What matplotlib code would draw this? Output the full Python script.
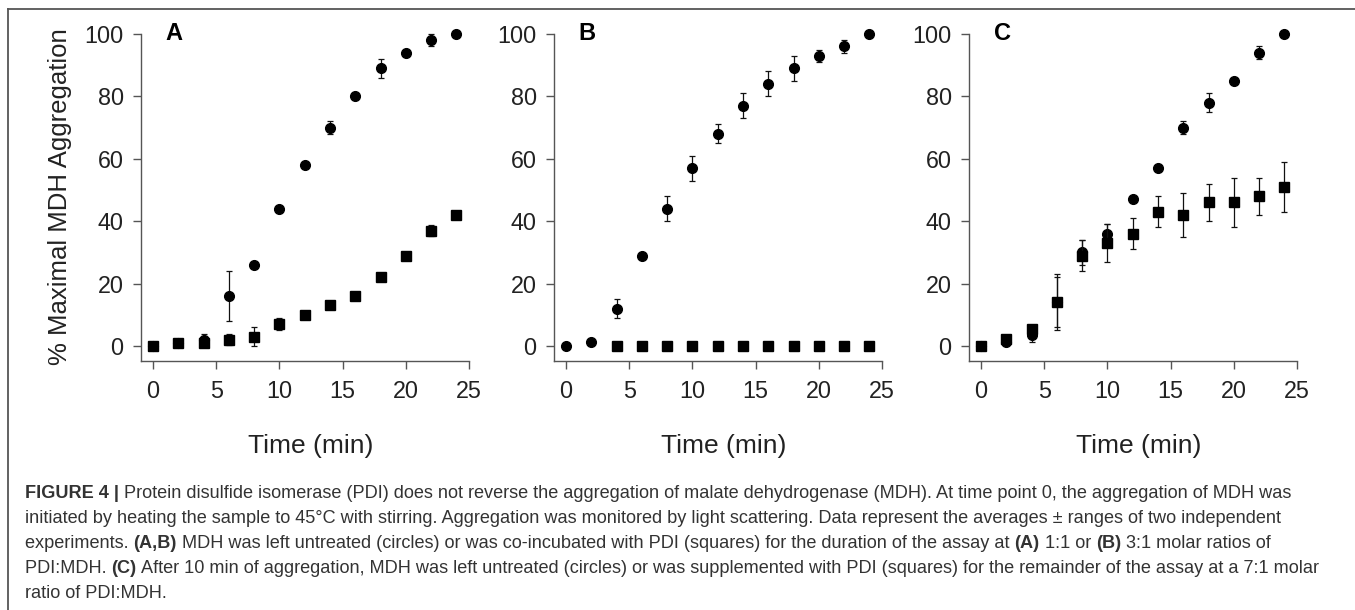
import matplotlib
matplotlib.use("Agg")
import matplotlib.pyplot as plt
from matplotlib.lines import Line2D
import numpy as np

plt.rcParams['font.family'] = ['Liberation Sans', 'DejaVu Sans']

# ---------------- data ----------------
time = [0, 2, 4, 6, 8, 10, 12, 14, 16, 18, 20, 22, 24]

A_circ = [0, 1, 2, 16, 26, 44, 58, 70, 80, 89, 94, 98, 100]
A_circ_err = [0, 0, 2, 8, 0, 0, 0, 2, 0, 3, 0, 2, 0]
A_sq = [0, 1, 1, 2, 3, 7, 10, 13, 16, 22, 29, 37, 42]
A_sq_err = [0, 0, 0, 1.8, 3, 2, 0, 0, 0, 0, 0, 1.8, 0]

B_circ = [0, 1.2, 12, 29, 44, 57, 68, 77, 84, 89, 93, 96, 100]
B_circ_err = [0, 0, 3, 0, 4, 4, 3, 4, 4, 4, 2, 2, 0]
B_sq_time = [4, 6, 8, 10, 12, 14, 16, 18, 20, 22, 24]
B_sq = [0, 0, 0, 0, 0, 0, 0, 0, 0, 0, 0]
B_sq_err = [0, 0, 0, 0, 0, 0, 0, 0, 0, 0, 0]

C_circ = [0, 1.4, 3.5, 14, 30, 36, 47, 57, 70, 78, 85, 94, 100]
C_circ_err = [0, 0, 2.2, 9, 4, 3, 0, 0, 2, 3, 0, 2, 0]
C_sq = [0, 2.2, 5.3, 14, 29, 33, 36, 43, 42, 46, 46, 48, 51]
C_sq_err = [0, 0, 1, 8, 5, 6, 5, 5, 7, 6, 8, 6, 8]

panel_letters = ["A", "B", "C"]
x_ticks = [0, 5, 10, 15, 20, 25]
y_ticks = [0, 20, 40, 60, 80, 100]
x_label = "Time (min)"
y_label = "% Maximal MDH Aggregation"

caption_lines = [
    [("FIGURE 4 | ", True),
     ("Protein disulfide isomerase (PDI) does not reverse the aggregation of malate dehydrogenase (MDH). At time point 0, the aggregation of MDH was", False)],
    [("initiated by heating the sample to 45\u00b0C with stirring. Aggregation was monitored by light scattering. Data represent the averages \u00b1 ranges of two independent", False)],
    [("experiments. ", False), ("(A,B)", True),
     (" MDH was left untreated (circles) or was co-incubated with PDI (squares) for the duration of the assay at ", False),
     ("(A)", True), (" 1:1 or ", False), ("(B)", True), (" 3:1 molar ratios of", False)],
    [("PDI:MDH. ", False), ("(C)", True),
     (" After 10 min of aggregation, MDH was left untreated (circles) or was supplemented with PDI (squares) for the remainder of the assay at a 7:1 molar", False)],
    [("ratio of PDI:MDH.", False)],
]

# ---------------- figure ----------------
W, H = 1355, 610
fig = plt.figure(figsize=(W / 100, H / 100), dpi=100)
fig.patch.set_facecolor("white")

def fx(px):
    return px / W

def fy(py):
    return 1 - py / H

spine_col = "#555555"
txt_col = "#222222"

panels = [
    (141, [(time, A_circ, A_circ_err, 'o'), (time, A_sq, A_sq_err, 's')]),
    (554, [(time, B_circ, B_circ_err, 'o'), (B_sq_time, B_sq, B_sq_err, 's')]),
    (969, [(time, C_circ, C_circ_err, 'o'), (time, C_sq, C_sq_err, 's')]),
]

ax_w = 328
ax_top, ax_bot = 34, 361
for i, (left, series) in enumerate(panels):
    ax = fig.add_axes([fx(left), fy(ax_bot), ax_w / W, (ax_bot - ax_top) / H])
    for (xs, ys, es, mk) in series:
        ms = 7.0 if mk == 'o' else 7.0
        z = 3 if mk == 'o' else 4
        ax.errorbar(xs, ys, yerr=es, fmt=mk, color='black', markersize=ms,
                    ecolor='#111111', elinewidth=0.9, capsize=2.3, capthick=0.9,
                    clip_on=False, zorder=z)
    ax.set_xlim(-0.95, 25)
    ax.set_ylim(-4.8, 100)
    ax.set_xticks(x_ticks)
    ax.set_yticks(y_ticks)
    for s in ["top", "right"]:
        ax.spines[s].set_visible(False)
    for s in ["left", "bottom"]:
        ax.spines[s].set_color(spine_col)
        ax.spines[s].set_linewidth(1.0)
    ax.tick_params(axis='both', length=5.5, width=1.0, color=spine_col,
                   labelsize=16.8, labelcolor=txt_col)
    ax.tick_params(axis='y', pad=7)
    ax.tick_params(axis='x', pad=8)
    ax.patch.set_alpha(0)
    ax.text(1.0, 100, panel_letters[i], fontsize=17, fontweight='bold',
            ha='left', va='center', color='black')
    # x label
    cx = left + 12 + 12.5 * 12.64
    fig.text(fx(cx), fy(446), x_label, fontsize=19, ha='center', va='center',
             color=txt_col)

fig.text(fx(60), fy(197), y_label, fontsize=18.5, rotation=90,
         ha='center', va='center', color=txt_col)

# border (top and left)
fig.add_artist(Line2D([fx(8), fx(1355)], [fy(8.5), fy(8.5)], color=spine_col, lw=1.3))
fig.add_artist(Line2D([fx(8), fx(8)], [fy(8.5), fy(610)], color=spine_col, lw=1.3))

# ---------------- caption ----------------
renderer = fig.canvas.get_renderer()
cap_col = "#333333"

def run_width(s, bold, size):
    t1 = fig.text(0, 0, "X" + s + "X", fontsize=size,
                  fontweight='bold' if bold else 'normal')
    t2 = fig.text(0, 0, "XX", fontsize=size,
                  fontweight='bold' if bold else 'normal')
    w = t1.get_window_extent(renderer).width - t2.get_window_extent(renderer).width
    t1.remove()
    t2.remove()
    return w

base_size = 11.0
w1 = sum(run_width(s, b, base_size) for s, b in caption_lines[0])
cap_size = base_size * (1294 - 25) / w1

baselines = [498, 523, 548, 573, 598]
for line, yb in zip(caption_lines, baselines):
    x = 25
    for s, b in line:
        fig.text(fx(x), fy(yb), s, fontsize=cap_size,
                 fontweight='bold' if b else 'normal', ha='left', va='baseline',
                 color=cap_col)
        x += run_width(s, b, cap_size)

fig.savefig("out.png", dpi=100, facecolor="white")
